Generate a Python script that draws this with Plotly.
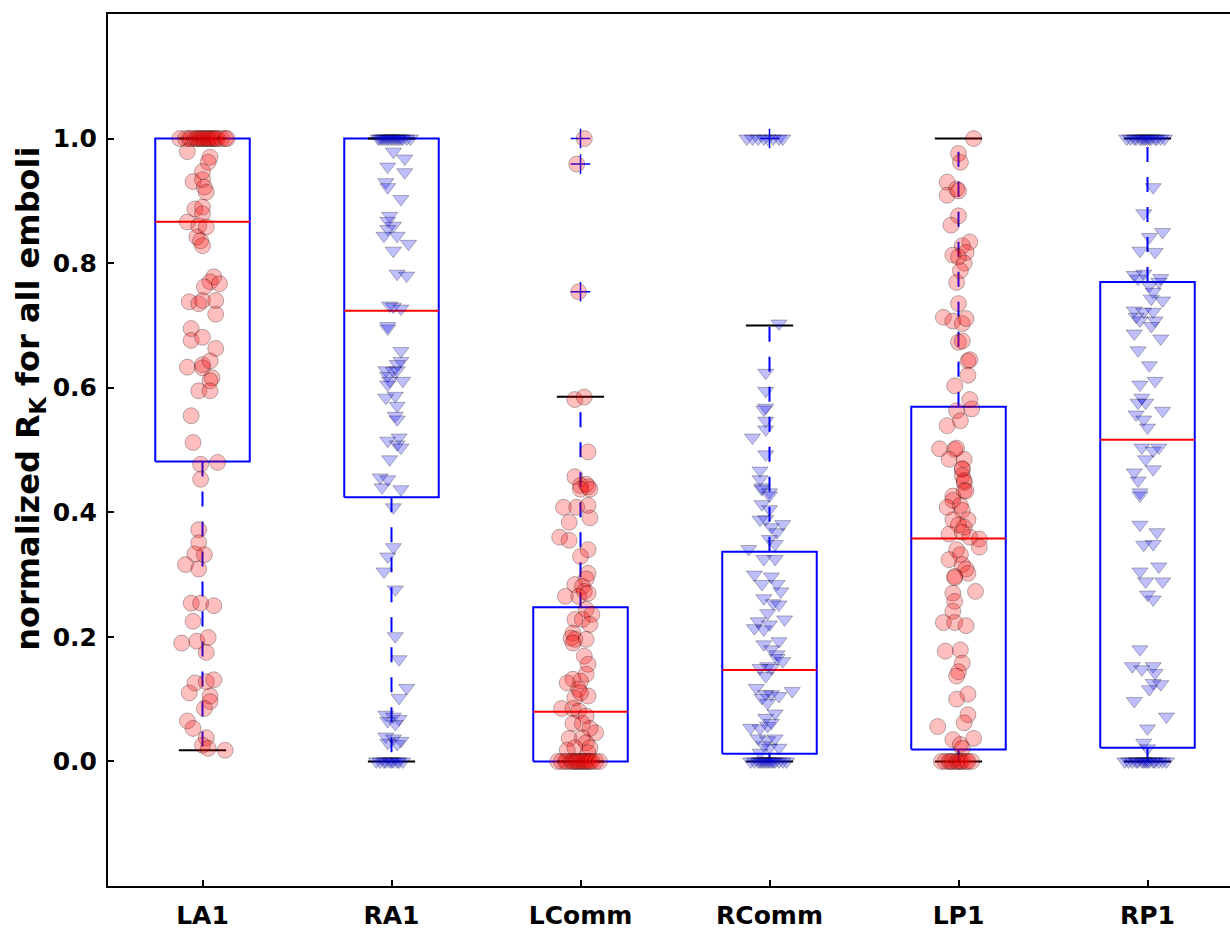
import plotly.graph_objects as go

categories = ["LA1", "RA1", "LComm", "RComm", "LP1", "RP1"]
positions = [1, 2, 3, 4, 5, 6]
y_ticks = [0.0, 0.2, 0.4, 0.6, 0.8, 1.0]
y_tick_text = ["0.0", "0.2", "0.4", "0.6", "0.8", "1.0"]

# box statistics
q1 = [0.4816, 0.4242, 0.0, 0.0123, 0.0191, 0.0218]
median = [0.8665, 0.7236, 0.0797, 0.1467, 0.3578, 0.5163]
q3 = [1.0, 1.0, 0.2477, 0.3365, 0.5694, 0.7698]
whisker_low = [0.018, 0.0, 0.0, 0.0, 0.0, 0.0]
whisker_high = [1.0, 1.0, 0.5853, 0.6997, 1.0, 1.0]
fliers_lcomm = [1.0, 0.959, 0.754]
fliers_rcomm = [1.0]

# individual values (with their horizontal jitter)
la1_vals = [1.0, 1.0, 1.0, 1.0, 1.0, 1.0, 1.0, 1.0, 1.0, 1.0, 1.0, 1.0, 1.0, 1.0, 1.0, 1.0, 1.0, 1.0, 1.0, 1.0,
            0.979, 0.970, 0.962, 0.947, 0.931, 0.934, 0.922, 0.914, 0.887, 0.890,
            0.879, 0.866, 0.860, 0.858, 0.842, 0.836, 0.828, 0.778, 0.770, 0.767,
            0.762, 0.738, 0.735, 0.740, 0.740, 0.718, 0.695, 0.676, 0.681, 0.663,
            0.633, 0.637, 0.632, 0.643, 0.616, 0.611, 0.595, 0.595, 0.555, 0.512,
            0.477, 0.480, 0.453, 0.372, 0.351, 0.333, 0.332, 0.316, 0.309, 0.254,
            0.254, 0.250, 0.225, 0.190, 0.193, 0.199, 0.175, 0.126, 0.128, 0.131,
            0.110, 0.105, 0.096, 0.085, 0.065, 0.053, 0.038, 0.026, 0.021, 0.018]
la1_jit = [-0.12, -0.09, -0.07, -0.06, -0.04, -0.03, -0.02, -0.01, 0.0, 0.01, 0.02, 0.03, 0.04, 0.05, 0.06, 0.07, 0.08, 0.10, 0.12, 0.13,
           -0.08, 0.04, 0.03, 0.00, -0.05, 0.00, 0.01, 0.02, -0.04, 0.00,
           0.00, -0.08, -0.02, 0.02, -0.03, -0.01, 0.00, 0.06, 0.04, 0.09,
           0.01, -0.07, -0.02, 0.00, 0.07, 0.07, -0.06, -0.06, 0.00, 0.07,
           -0.08, 0.00, 0.00, 0.04, 0.05, 0.04, -0.02, 0.04, -0.06, -0.05,
           -0.01, 0.08, -0.01, -0.02, -0.02, -0.04, 0.01, -0.09, -0.02, -0.06,
           -0.01, 0.06, -0.05, -0.11, -0.03, 0.03, 0.02, -0.04, 0.02, 0.06,
           -0.07, 0.04, 0.04, 0.01, -0.08, -0.05, 0.02, 0.00, 0.03, 0.12]

ra1_vals = [1.0, 1.0, 1.0, 1.0, 1.0, 1.0, 1.0, 1.0, 1.0, 1.0, 1.0, 1.0, 1.0, 1.0, 1.0, 1.0,
            0.979, 0.968, 0.955, 0.946, 0.930, 0.922, 0.903, 0.876, 0.868, 0.860,
            0.855, 0.844, 0.844, 0.831, 0.820, 0.783, 0.780, 0.732, 0.730, 0.727,
            0.699, 0.695, 0.659, 0.643, 0.638, 0.628, 0.627, 0.628, 0.619, 0.611,
            0.611, 0.605, 0.584, 0.587, 0.571, 0.555, 0.549, 0.520, 0.515, 0.509,
            0.504, 0.485, 0.456, 0.453, 0.440, 0.437, 0.408, 0.344, 0.329, 0.305,
            0.276, 0.201, 0.164, 0.118, 0.102, 0.075, 0.072, 0.068, 0.065, 0.060,
            0.040, 0.037, 0.033, 0.030, 0.028,
            0.0, 0.0, 0.0, 0.0, 0.0, 0.0, 0.0, 0.0, 0.0, 0.0]
ra1_jit = [-0.07, -0.06, -0.05, -0.04, -0.03, -0.02, -0.01, 0.0, 0.01, 0.02, 0.03, 0.04, 0.05, 0.06, 0.08, 0.10,
           0.01, 0.07, -0.02, 0.07, -0.03, -0.02, 0.05, -0.01, -0.02, 0.01,
           -0.02, -0.04, 0.03, 0.09, 0.01, 0.03, 0.08, -0.01, 0.01, 0.05,
           -0.02, -0.02, 0.05, 0.05, 0.03, -0.03, 0.01, 0.03, -0.02, -0.01,
           0.06, -0.02, -0.03, 0.02, 0.03, 0.02, 0.03, 0.04, -0.02, 0.03,
           0.05, -0.01, -0.06, -0.02, -0.05, 0.05, 0.01, 0.01, -0.02, -0.04,
           0.02, 0.02, 0.04, 0.08, 0.04, -0.03, 0.01, 0.04, -0.02, 0.02,
           -0.03, 0.01, 0.05, -0.02, 0.03,
           -0.08, -0.06, -0.04, -0.03, -0.01, 0.0, 0.01, 0.03, 0.04, 0.06]

lcomm_vals = [1.0, 0.959, 0.754, 0.581, 0.585, 0.497, 0.457, 0.443, 0.441, 0.445,
              0.437, 0.437, 0.408, 0.408, 0.411, 0.391, 0.384, 0.360, 0.355, 0.340,
              0.329, 0.302, 0.293, 0.284, 0.281, 0.273, 0.265, 0.265, 0.270, 0.244,
              0.236, 0.228, 0.228, 0.220, 0.206, 0.198, 0.196, 0.196, 0.190, 0.169,
              0.156, 0.140, 0.132, 0.129, 0.126, 0.116, 0.105, 0.102, 0.110, 0.085,
              0.085, 0.081, 0.073, 0.061, 0.061, 0.046, 0.053, 0.037, 0.038, 0.030,
              0.022, 0.022, 0.018, 0.014,
              0.0, 0.0, 0.0, 0.0, 0.0, 0.0, 0.0, 0.0, 0.0, 0.0, 0.0, 0.0, 0.0, 0.0, 0.0, 0.0, 0.0, 0.0]
lcomm_jit = [0.02, -0.02, -0.01, -0.03, 0.02, 0.04, -0.03, 0.00, 0.04, 0.03,
             0.00, 0.05, -0.09, -0.02, 0.04, 0.05, -0.06, -0.11, -0.06, 0.04,
             0.00, 0.04, 0.03, -0.03, 0.01, 0.02, -0.08, -0.01, 0.04, 0.03,
             0.06, -0.03, 0.01, 0.05, -0.04, -0.05, -0.03, 0.03, -0.04, 0.02,
             0.04, 0.03, -0.04, 0.00, -0.07, -0.01, 0.04, -0.03, 0.00, -0.10,
             -0.04, -0.01, 0.03, -0.04, 0.01, 0.08, 0.05, -0.06, 0.01, 0.03,
             -0.03, 0.05, -0.07, 0.04,
             -0.12, -0.10, -0.08, -0.07, -0.05, -0.04, -0.03, -0.02, -0.01, 0.0, 0.01, 0.02, 0.03, 0.04, 0.05, 0.06, 0.08, 0.10]

rcomm_vals = [1.0, 1.0, 1.0, 1.0, 1.0, 1.0, 1.0, 1.0,
              0.703, 0.624, 0.595, 0.568, 0.565, 0.547, 0.533, 0.520, 0.493, 0.467,
              0.440, 0.432, 0.453, 0.437, 0.427, 0.413, 0.405, 0.388, 0.389, 0.376,
              0.381, 0.368, 0.357, 0.349, 0.341, 0.325, 0.325, 0.300, 0.285, 0.297,
              0.285, 0.273, 0.262, 0.254, 0.252, 0.238, 0.228, 0.225, 0.220, 0.214,
              0.212, 0.193, 0.188, 0.180, 0.172, 0.166, 0.161, 0.153, 0.150, 0.150,
              0.137, 0.118, 0.113, 0.108, 0.108, 0.105, 0.102, 0.094, 0.077, 0.070,
              0.054, 0.053, 0.057, 0.062, 0.037, 0.034, 0.037, 0.026, 0.022, 0.022,
              0.014,
              0.0, 0.0, 0.0, 0.0, 0.0, 0.0, 0.0, 0.0, 0.0, 0.0, 0.0, 0.0, 0.0, 0.0, 0.0]
rcomm_jit = [-0.12, -0.09, -0.06, -0.03, -0.01, 0.02, 0.05, 0.07,
             0.05, -0.02, -0.02, -0.02, -0.03, -0.02, -0.02, -0.09, -0.02, -0.05,
             -0.04, 0.00, -0.05, -0.04, 0.00, -0.04, 0.00, -0.05, -0.02, 0.01,
             0.07, 0.04, 0.00, 0.03, -0.11, -0.03, 0.03, -0.08, -0.04, 0.01,
             0.04, 0.06, -0.03, 0.02, 0.05, -0.01, 0.08, -0.06, 0.00, -0.08,
             -0.03, 0.05, -0.03, 0.01, 0.04, 0.04, 0.07, -0.01, -0.05, 0.01,
             -0.02, -0.07, 0.12, -0.02, 0.01, 0.05, -0.04, -0.01, 0.03, -0.02,
             -0.10, -0.05, -0.01, 0.01, -0.06, -0.01, 0.03, -0.03, 0.00, 0.05,
             -0.05,
             -0.10, -0.08, -0.06, -0.05, -0.04, -0.03, -0.02, -0.01, 0.0, 0.01, 0.02, 0.03, 0.05, 0.07, 0.09]

lp1_vals = [1.0, 0.976, 0.962, 0.930, 0.909, 0.919, 0.916, 0.876, 0.861, 0.834,
            0.828, 0.817, 0.813, 0.810, 0.800, 0.788, 0.769, 0.735, 0.713, 0.707,
            0.703, 0.711, 0.673, 0.675, 0.643, 0.645, 0.620, 0.603, 0.581, 0.566,
            0.563, 0.547, 0.539, 0.502, 0.501, 0.503, 0.485, 0.485, 0.469, 0.470,
            0.459, 0.448, 0.435, 0.426, 0.451, 0.434, 0.419, 0.408, 0.411, 0.403,
            0.388, 0.388, 0.380, 0.376, 0.365, 0.368, 0.360, 0.357, 0.344, 0.340,
            0.332, 0.324, 0.316, 0.309, 0.302, 0.297, 0.295, 0.273, 0.270, 0.257,
            0.241, 0.223, 0.223, 0.218, 0.177, 0.179, 0.158, 0.144, 0.137, 0.108,
            0.100, 0.075, 0.062, 0.056, 0.037, 0.035, 0.027, 0.021,
            0.0, 0.0, 0.0, 0.0, 0.0, 0.0, 0.0, 0.0, 0.0, 0.0, 0.0, 0.0]
lp1_jit = [0.08, 0.00, 0.01, -0.06, -0.06, -0.01, 0.00, 0.00, -0.04, 0.06,
           0.02, 0.04, -0.03, 0.00, 0.03, 0.01, -0.01, 0.00, -0.08, -0.03,
           0.02, 0.04, 0.00, 0.02, 0.05, 0.06, 0.05, -0.02, 0.06, 0.07,
           -0.01, 0.01, -0.06, -0.10, -0.02, -0.01, -0.05, 0.03, 0.02, 0.02,
           0.02, 0.03, 0.03, -0.03, 0.03, 0.04, -0.03, -0.06, 0.01, 0.02,
           -0.03, 0.05, 0.00, 0.03, -0.05, 0.02, 0.06, 0.11, 0.11, -0.01,
           0.01, -0.05, 0.02, 0.04, 0.05, -0.02, -0.02, 0.09, -0.03, -0.02,
           -0.03, -0.08, -0.02, 0.04, -0.07, 0.01, 0.02, 0.00, -0.01, 0.05,
           -0.01, 0.05, 0.03, -0.11, 0.08, -0.03, 0.01, 0.02,
           -0.09, -0.07, -0.05, -0.04, -0.03, -0.01, 0.0, 0.01, 0.02, 0.04, 0.05, 0.07]

rp1_vals = [1.0, 1.0, 1.0, 1.0, 1.0, 1.0, 1.0, 1.0, 1.0, 1.0, 1.0, 1.0, 1.0, 1.0, 1.0,
            0.922, 0.880, 0.850, 0.842, 0.820, 0.818, 0.781, 0.783, 0.775, 0.770,
            0.776, 0.764, 0.754, 0.743, 0.740, 0.724, 0.722, 0.722, 0.714, 0.708,
            0.708, 0.699, 0.687, 0.679, 0.660, 0.636, 0.611, 0.605, 0.584, 0.576,
            0.576, 0.563, 0.557, 0.549, 0.536, 0.504, 0.504, 0.499, 0.485, 0.469,
            0.464, 0.451, 0.432, 0.427, 0.380, 0.368, 0.348, 0.349, 0.305, 0.313,
            0.289, 0.289, 0.268, 0.260, 0.180, 0.153, 0.148, 0.153, 0.142, 0.126,
            0.124, 0.116, 0.097, 0.072, 0.053, 0.030, 0.021,
            0.0, 0.0, 0.0, 0.0, 0.0, 0.0, 0.0, 0.0, 0.0, 0.0, 0.0, 0.0, 0.0, 0.0, 0.0]
rp1_jit = [-0.11, -0.09, -0.07, -0.06, -0.04, -0.03, -0.02, -0.01, 0.0, 0.01, 0.02, 0.04, 0.05, 0.07, 0.09,
           0.03, -0.02, 0.08, 0.01, -0.04, 0.04, -0.07, -0.02, -0.05, 0.06,
           0.07, 0.01, 0.03, 0.02, 0.08, -0.07, -0.02, 0.03, -0.06, -0.04,
           0.04, 0.02, -0.07, 0.07, -0.05, 0.01, 0.04, -0.04, -0.03, -0.01,
           -0.05, 0.08, -0.06, -0.02, 0.00, -0.03, 0.06, 0.03, -0.01, 0.03,
           -0.07, -0.05, -0.04, -0.04, -0.04, 0.05, -0.02, 0.03, -0.04, 0.06,
           -0.01, 0.08, 0.00, 0.03, -0.04, -0.08, -0.03, 0.03, 0.04, 0.03,
           0.07, 0.01, -0.07, 0.10, 0.00, -0.02, 0.00,
           -0.12, -0.10, -0.08, -0.06, -0.05, -0.03, -0.02, -0.01, 0.0, 0.01, 0.03, 0.04, 0.06, 0.08, 0.10]

group_vals = [la1_vals, ra1_vals, lcomm_vals, rcomm_vals, lp1_vals, rp1_vals]
group_jit = [la1_jit, ra1_jit, lcomm_jit, rcomm_jit, lp1_jit, rp1_jit]
group_fliers = [[], [], fliers_lcomm, fliers_rcomm, [], []]

BOX_HALF = 0.25
CAP_HALF = 0.125
LINE_W = 2

FONT = "DejaVu Sans"
TICK_SIZE = 25
LABEL_SIZE = 32

fig = go.Figure()

# boxes
for i, p in enumerate(positions):
    fig.add_trace(go.Scatter(
        x=[p - BOX_HALF, p + BOX_HALF, p + BOX_HALF, p - BOX_HALF, p - BOX_HALF],
        y=[q1[i], q1[i], q3[i], q3[i], q1[i]],
        mode="lines", line=dict(color="#0000ff", width=LINE_W), hoverinfo="skip"))
    fig.add_trace(go.Scatter(
        x=[p, p], y=[q1[i], whisker_low[i]], mode="lines",
        line=dict(color="#0000ff", width=LINE_W, dash="15px,15px"), hoverinfo="skip"))
    fig.add_trace(go.Scatter(
        x=[p, p], y=[q3[i], whisker_high[i]], mode="lines",
        line=dict(color="#0000ff", width=LINE_W, dash="15px,15px"), hoverinfo="skip"))
    for w in (whisker_low[i], whisker_high[i]):
        fig.add_trace(go.Scatter(
            x=[p - CAP_HALF, p + CAP_HALF], y=[w, w], mode="lines",
            line=dict(color="black", width=LINE_W), hoverinfo="skip"))
    fig.add_trace(go.Scatter(
        x=[p - BOX_HALF, p + BOX_HALF], y=[median[i], median[i]], mode="lines",
        line=dict(color="#ff0000", width=LINE_W), hoverinfo="skip"))
    if group_fliers[i]:
        fig.add_trace(go.Scatter(
            x=[p] * len(group_fliers[i]), y=group_fliers[i], mode="markers",
            marker=dict(symbol="cross-thin", size=14, line=dict(color="#0000ff", width=1.5)),
            hoverinfo="skip"))

# points
for i, p in enumerate(positions):
    left = categories[i].startswith("L")
    xs = [p + j for j in group_jit[i]]
    if left:
        marker = dict(symbol="circle", size=16, color="rgba(255,0,0,0.25)",
                      line=dict(color="rgba(0,0,0,0.28)", width=1))
    else:
        marker = dict(symbol="triangle-down", size=14, color="rgba(0,0,255,0.25)",
                      line=dict(color="rgba(0,0,0,0.28)", width=1))
    fig.add_trace(go.Scatter(x=xs, y=group_vals[i], mode="markers", marker=marker,
                             name=categories[i]))

fig.update_layout(
    width=1230, height=930,
    margin=dict(l=108, r=0, t=13.6, b=38.6),
    paper_bgcolor="white", plot_bgcolor="white",
    showlegend=False,
    font=dict(family=FONT, size=TICK_SIZE, color="black", weight="bold"),
    xaxis=dict(range=[0.5, 6.4365], tickmode="array", tickvals=positions, ticktext=categories,
               showline=True, linecolor="black", linewidth=2, mirror=True,
               ticks="inside", ticklen=6, tickwidth=1.5, tickcolor="black",
               showgrid=False, zeroline=False, ticklabelstandoff=6,
               tickfont=dict(family=FONT, size=TICK_SIZE, color="black", weight="bold")),
    yaxis=dict(range=[-0.2, 1.2], tickmode="array", tickvals=y_ticks, ticktext=y_tick_text,
               showline=True, linecolor="black", linewidth=2, mirror=False,
               ticks="inside", ticklen=6, tickwidth=1.5, tickcolor="black",
               showgrid=False, zeroline=False, ticklabelstandoff=4,
               tickfont=dict(family=FONT, size=TICK_SIZE, color="black", weight="bold")),
    annotations=[dict(text="normalized R<sub>K</sub> for all emboli", textangle=-90,
                      xref="paper", yref="paper", x=-0.0695, y=0.5587,
                      xanchor="center", yanchor="middle", showarrow=False,
                      font=dict(family=FONT, size=LABEL_SIZE, color="black", weight="bold"))],
)

fig.write_html(
    "out.html",
    config={"displayModeBar": False},
    post_script="document.body.style.margin='0';document.body.style.overflow='hidden';",
)
